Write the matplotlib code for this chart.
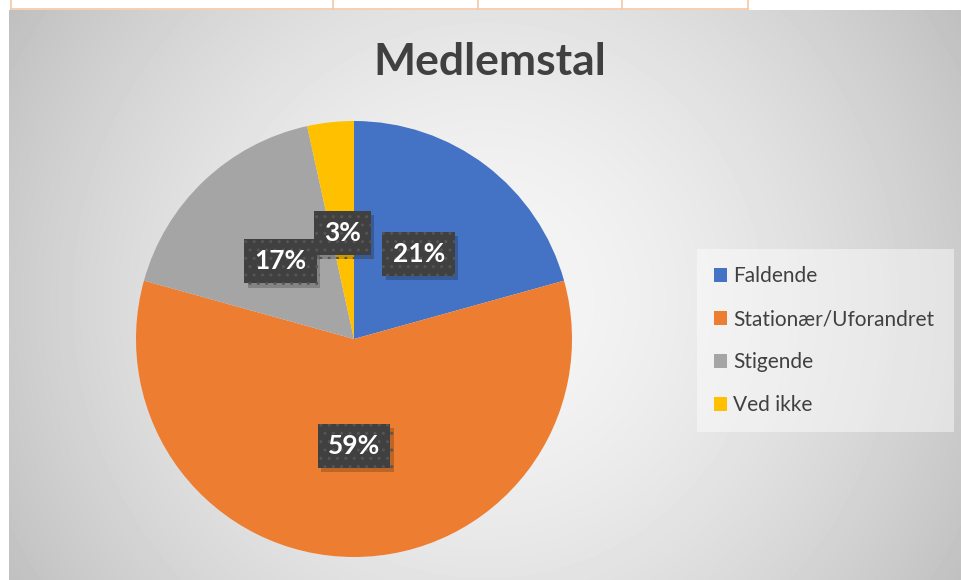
import numpy as np
import matplotlib.pyplot as plt
from matplotlib.lines import Line2D
import matplotlib.patheffects as pe

# Data
categories = ["Faldende", "Stationær/Uforandret", "Stigende", "Ved ikke"]
counts = [6, 17, 5, 1]
colors = ["#4472C4", "#ED7D31", "#A5A5A5", "#FFC000"]
title = "Medlemstal"

W, H = 962, 580
fig = plt.figure(figsize=(W / 100, H / 100), dpi=100)
fig.patch.set_facecolor("white")


def fx(px):
    return px / W


def fy(py):
    return 1 - py / H


# --- radial gradient chart background ---
bg = fig.add_axes([fx(9), 0, fx(W - 9), (H - 10) / H])
yy, xx = np.mgrid[10:H, 9:W]
rr = np.hypot(xx - 485, yy - 300) / np.hypot(476, 290)
shade = 0.965 - 0.215 * rr ** 1.6
bg.imshow(shade, cmap="gray", vmin=0, vmax=1, aspect="auto", interpolation="bilinear")
bg.axis("off")

# --- bit of the spreadsheet table above the chart ---
grid_col = "#f4c7a4"
fig.add_artist(Line2D([fx(11), fx(748)], [fy(9), fy(9)], color=grid_col, lw=1.2))
for x in [11, 333, 478, 622, 748]:
    fig.add_artist(Line2D([fx(x), fx(x)], [fy(0), fy(9)], color=grid_col, lw=1.2))

# --- pie ---
R = 218
ax = fig.add_axes([fx(354 - R), fy(339 + R), fx(2 * R), 2 * R / H])
wedges, texts, autotexts = ax.pie(
    counts, colors=colors, startangle=90, counterclock=False,
    autopct="%1.0f%%", pctdistance=0.49,
    wedgeprops=dict(linewidth=0),
)
ax.set_xlim(-1, 1)
ax.set_ylim(-1, 1)

for t in autotexts:
    t.set_color("white")
    t.set_fontsize(19)
    t.set_fontweight("bold")
    t.set_family("Lato")
    t.set_bbox(dict(boxstyle="square,pad=0.38", fc="#404040", ec="#555555",
                    lw=0, hatch=".."))
    t.set_zorder(4)
    # soft shadow behind the label box
    t.get_bbox_patch().set_path_effects(
        [pe.SimplePatchShadow(offset=(2.5, -3), shadow_rgbFace="black", alpha=0.2),
         pe.Normal()])

# --- title ---
fig.text(fx(490), fy(62), title, ha="center", va="center", fontsize=32,
         fontweight="bold", color="#404040", family="Lato")

# --- legend ---
leg = fig.legend(
    wedges, categories, loc="center", mode="expand",
    bbox_to_anchor=(fx(697), fy(431), fx(257), 181 / H),
    frameon=True, fancybox=False, facecolor="white", framealpha=0.45,
    edgecolor="none", prop=dict(family="Lato", size=15), labelcolor="#404040",
    handlelength=0.65, handleheight=0.65, handletextpad=0.3,
    labelspacing=1.1, borderpad=0.8, borderaxespad=0,
)

fig.savefig("out.png", dpi=100)
